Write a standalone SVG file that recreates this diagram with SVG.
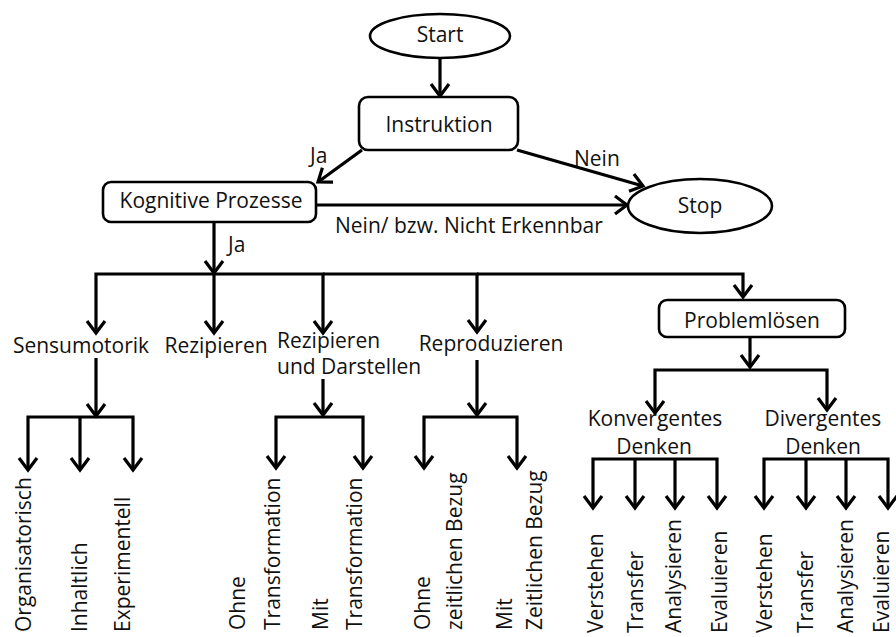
<svg xmlns="http://www.w3.org/2000/svg" width="896" height="637" viewBox="0 0 896 637">
<defs>
<marker id="ah" markerUnits="userSpaceOnUse" markerWidth="30" markerHeight="30" viewBox="-15 -15 30 30" refX="0" refY="0" orient="auto">
<path d="M-12,-9 L0,0 L-12,9" fill="none" stroke="#000" stroke-width="3.2" stroke-linejoin="miter"/>
</marker>
</defs>
<style>
text{font-family:"Open Sans","DejaVu Sans",sans-serif;font-size:21px;fill:#111}
.c{text-anchor:middle}
.shape{fill:#fff;stroke:#000;stroke-width:2.6}
.e{fill:none;stroke:#000;stroke-width:3.2}
.a{marker-end:url(#ah)}
</style>
<rect width="896" height="637" fill="#fff"/>
<g id="connectors">
<path class="e a" d="M440,59 V96"/>
<path class="e a" d="M362,150 L318,182"/>
<path class="e a" d="M517,150 L643,186"/>
<path class="e a" d="M317,205 H627"/>
<path class="e a" d="M214,222 V273"/>
<path class="e a" d="M214,274 H96 V333"/>
<path class="e a" d="M214,274 V333"/>
<path class="e a" d="M214,274 H323 V333"/>
<path class="e a" d="M323,274 H477 V332"/>
<path class="e a" d="M477,274 H743 V297"/>
<path class="e a" d="M96,358 V416"/>
<path class="e a" d="M96,417 H28 V470"/>
<path class="e a" d="M80,417 V470"/>
<path class="e a" d="M96,417 H133 V470"/>
<path class="e a" d="M323,379 V415"/>
<path class="e a" d="M323,417 H276 V468"/>
<path class="e a" d="M323,417 H363 V468"/>
<path class="e a" d="M477,360 V415"/>
<path class="e a" d="M477,417 H424 V468"/>
<path class="e a" d="M477,417 H517 V468"/>
<path class="e a" d="M750,337 V367"/>
<path class="e a" d="M750,370 H655 V413"/>
<path class="e a" d="M750,370 H827 V410"/>
<path class="e a" d="M655,459 H593 V508"/>
<path class="e a" d="M635,459 V508"/>
<path class="e a" d="M675,459 V508"/>
<path class="e a" d="M655,459 H717 V508"/>
<path class="e a" d="M827,459 H764 V508"/>
<path class="e a" d="M806,459 V508"/>
<path class="e a" d="M846,459 V508"/>
<path class="e a" d="M827,459 H888 V508"/>
</g>
<g id="edge-labels">
<text x="310" y="163">Ja</text>
<text x="574" y="166">Nein</text>
<text x="335" y="233">Nein/ bzw. Nicht Erkennbar</text>
<text x="228" y="252">Ja</text>
</g>
<g id="start"><ellipse class="shape" cx="440" cy="36" rx="70" ry="22"/><text class="c" x="440" y="42">Start</text></g>
<g id="instruktion"><rect class="shape" x="359" y="97" width="159" height="53" rx="9"/><text class="c" x="439" y="132">Instruktion</text></g>
<g id="stop"><ellipse class="shape" cx="700" cy="206" rx="72" ry="27"/><text class="c" x="700" y="213">Stop</text></g>
<g id="kognitive"><rect class="shape" x="103" y="182" width="213" height="40" rx="8"/><text class="c" x="211" y="208">Kognitive Prozesse</text></g>
<g id="sensumotorik"><text class="c" x="81" y="353">Sensumotorik</text></g>
<g id="rezipieren"><text class="c" x="216" y="353">Rezipieren</text></g>
<g id="rezipieren-darstellen"><text x="277" y="348">Rezipieren</text><text x="277" y="374">und Darstellen</text></g>
<g id="reproduzieren"><text class="c" x="491" y="351">Reproduzieren</text></g>
<g id="problemloesen"><rect class="shape" x="659" y="300" width="186" height="37" rx="8"/><text class="c" x="752" y="328">Problemlösen</text></g>
<g id="konvergent"><text class="c" x="655" y="426">Konvergentes</text><text class="c" x="654" y="454">Denken</text></g>
<g id="divergent"><text class="c" x="823" y="426">Divergentes</text><text class="c" x="823" y="454">Denken</text></g>
<g id="organisatorisch"><text transform="translate(31,632) rotate(-90)">Organisatorisch</text></g>
<g id="inhaltlich"><text transform="translate(87,632) rotate(-90)">Inhaltlich</text></g>
<g id="experimentell"><text transform="translate(130,632) rotate(-90)">Experimentell</text></g>
<g id="ohne-transformation"><text transform="translate(245,630) rotate(-90)">Ohne</text><text transform="translate(280,630) rotate(-90)">Transformation</text></g>
<g id="mit-transformation"><text transform="translate(328,630) rotate(-90)">Mit</text><text transform="translate(362,630) rotate(-90)">Transformation</text></g>
<g id="ohne-bezug"><text transform="translate(430,630) rotate(-90)">Ohne</text><text transform="translate(462,630) rotate(-90)">zeitlichen Bezug</text></g>
<g id="mit-bezug"><text transform="translate(512,630) rotate(-90)">Mit</text><text transform="translate(542,630) rotate(-90)">Zeitlichen Bezug</text></g>
<g id="k-verstehen"><text transform="translate(603,633) rotate(-90)">Verstehen</text></g>
<g id="k-transfer"><text transform="translate(643,633) rotate(-90)">Transfer</text></g>
<g id="k-analysieren"><text transform="translate(681,633) rotate(-90)">Analysieren</text></g>
<g id="k-evaluieren"><text transform="translate(727,633) rotate(-90)">Evaluieren</text></g>
<g id="d-verstehen"><text transform="translate(772,633) rotate(-90)">Verstehen</text></g>
<g id="d-transfer"><text transform="translate(813,633) rotate(-90)">Transfer</text></g>
<g id="d-analysieren"><text transform="translate(853,633) rotate(-90)">Analysieren</text></g>
<g id="d-evaluieren"><text transform="translate(889,633) rotate(-90)">Evaluieren</text></g>
</svg>
